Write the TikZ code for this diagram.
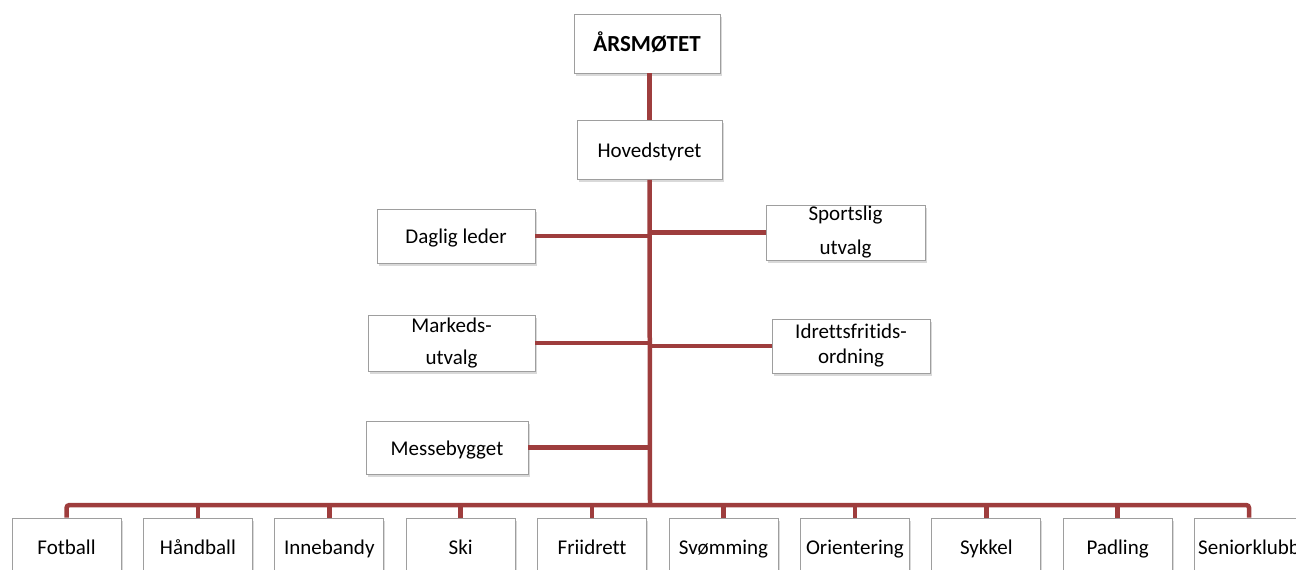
\documentclass[tikz,border=0pt]{standalone}
\usepackage{fontspec}
\setmainfont{Carlito}[Ligatures=NoCommon]
\usepackage{xcolor}
\usetikzlibrary{shadows}
\definecolor{linkred}{RGB}{158,61,61}
\begin{document}
\begin{tikzpicture}[x=1pt, y=-1pt,
    box/.style={draw=black!38, fill=white, line width=0.8pt, inner sep=0pt, align=center,
      drop shadow={shadow xshift=1.5pt, shadow yshift=-2.5pt, opacity=0.3},
      font=\fontsize{21}{25}\selectfont},
    one/.style={box, text height=17pt, text depth=2pt},
    sport/.style={one, minimum width=109pt, minimum height=58pt},
    link/.style={draw=linkred, line width=4.5pt}]
  \useasboundingbox (0,0) rectangle (1296,570);
  % top of the tree
  \node[one, minimum width=146pt, minimum height=59pt, font=\fontsize{23}{27}\selectfont\bfseries]
    (aars) at (647,43.5) {ÅRSMØTET};
  \node[one, minimum width=145pt, minimum height=59pt] (hoved) at (649.5,150) {Hovedstyret};
  \coordinate (bus) at (650,505);
  % staff and committees beside the trunk
  \node[one, minimum width=158pt, minimum height=54pt] (daglig) at (456,236) {Daglig leder};
  \node[box, minimum width=159pt, minimum height=55pt] (sportslig) at (845.5,232.5) {Sportslig\\[9pt]utvalg};
  \node[box, minimum width=167pt, minimum height=56pt] (marked) at (451.5,343) {Markeds-\\[7pt]utvalg};
  \node[box, minimum width=158pt, minimum height=54pt] (idrett) at (851,346) {Idrettsfritids-\\ordning};
  \node[one, minimum width=162pt, minimum height=53pt] (messe) at (447,447.5) {Messebygget};
  % the groups along the bottom
  \foreach \i/\t in {1/Fotball, 2/Håndball, 3/Innebandy, 4/Ski, 5/Friidrett,
                     6/Svømming, 7/Orientering, 8/Sykkel, 9/Padling, 10/Seniorklubb} {
    \node[sport] (sp\i) at ({66.5+131.4*(\i-1)},547) {\t};
  }
  % connectors
  \path[link] (hoved.north |- aars.south) -- (hoved.north);
  \path[link] (hoved.south) -- (bus);
  \foreach \n in {daglig, marked, messe} \path[link] (\n.east) -- (\n.east -| bus);
  \foreach \n in {sportslig, idrett} \path[link] (\n.west) -- (\n.west -| bus);
  \path[link, rounded corners=3pt] (sp1.north) |- (bus) -| (sp10.north);
  \foreach \i in {2,...,9} \path[link] (sp\i.north) -- (sp\i.north |- bus);
\end{tikzpicture}
\end{document}
